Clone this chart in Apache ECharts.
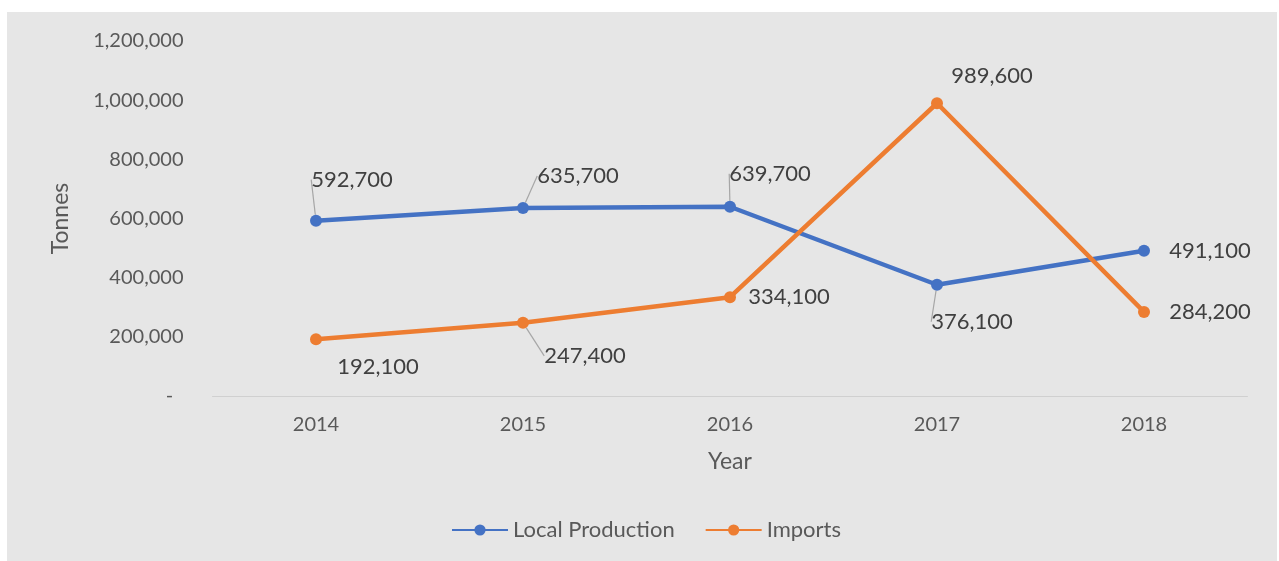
<!DOCTYPE html>
<html>
<head>
<meta charset="utf-8">
<script src="https://cdn.jsdelivr.net/npm/echarts@6/dist/echarts.min.js"></script>
<style>
html,body{margin:0;padding:0;background:#fff;width:1279px;height:561px;overflow:hidden;}
#panel{position:absolute;left:7px;top:12px;width:1270px;height:549px;background:#e6e6e6;}
#chart{position:absolute;left:0;top:0;width:1279px;height:561px;}
</style>
</head>
<body>
<div id="panel"></div>
<div id="chart"></div>
<script>
const years = ['2014', '2015', '2016', '2017', '2018'];
const localProduction = [592700, 635700, 639700, 376100, 491100];
const imports = [192100, 247400, 334100, 989600, 284200];
const yTicks = [0, 200000, 400000, 600000, 800000, 1000000, 1200000];

// label offsets (style) per point
const lpOffsets = [[36, -41], [55, -32], [40, -33], [35, 37], [66, 0]];
const imOffsets = [[62, 28], [62, 33], [59, 0], [55, -27], [66, 0]];
const lpLines = [true, true, true, true, false];
const imLines = [false, true, false, false, false];

const fontFam = 'Lato, "Open Sans", sans-serif';
const fmt = v => v.toLocaleString('en-US');

function mkData(vals, lines) {
  return vals.map((v, i) => ({ value: v, labelLine: { show: lines[i] } }));
}

const chart = echarts.init(document.getElementById('chart'), null, { renderer: 'canvas' });
chart.setOption({
  backgroundColor: 'transparent',
  animation: false,
  grid: { left: 212.5, right: 31.5, top: 41, bottom: 165 },
  legend: {
    top: 514,
    left: 446,
    itemWidth: 56,
    itemHeight: 14,
    itemGap: 30,
    textStyle: { color: '#595959', fontSize: 22, fontFamily: fontFam },
    data: ['Local Production', 'Imports']
  },
  xAxis: {
    type: 'category',
    data: years,
    boundaryGap: true,
    name: 'Year',
    nameLocation: 'middle',
    nameGap: 54,
    nameTextStyle: { color: '#595959', fontSize: 23, fontFamily: fontFam },
    axisLine: { lineStyle: { color: '#d0d0d0', width: 1 } },
    axisTick: { show: false },
    axisLabel: { color: '#595959', fontSize: 20, fontFamily: fontFam, margin: 19 }
  },
  yAxis: {
    type: 'value',
    min: 0,
    max: 1200000,
    interval: 200000,
    name: 'Tonnes',
    nameLocation: 'middle',
    nameGap: 140,
    nameTextStyle: { color: '#595959', fontSize: 23, fontFamily: fontFam },
    axisLine: { show: false },
    axisTick: { show: false },
    splitLine: { show: false },
    axisLabel: {
      color: '#595959', fontSize: 20, fontFamily: fontFam, margin: 29,
      formatter: v => v === 0 ? '-  ' : fmt(v)
    }
  },
  series: [
    {
      name: 'Local Production',
      type: 'line',
      data: mkData(localProduction, lpLines),
      color: '#4472C4',
      lineStyle: { width: 4.5, color: '#4472C4' },
      symbol: 'circle',
      symbolSize: 12,
      itemStyle: { color: '#4472C4' },
      label: {
        show: true, position: 'inside', color: '#404040', fontSize: 22, fontFamily: fontFam,
        formatter: p => fmt(p.value)
      },
      labelLine: { show: true, lineStyle: { color: '#a6a6a6', width: 1.2 } },
      labelLayout: p => ({ dx: lpOffsets[p.dataIndex][0], dy: lpOffsets[p.dataIndex][1] })
    },
    {
      name: 'Imports',
      type: 'line',
      data: mkData(imports, imLines),
      color: '#ED7D31',
      lineStyle: { width: 4.5, color: '#ED7D31' },
      symbol: 'circle',
      symbolSize: 12,
      itemStyle: { color: '#ED7D31' },
      label: {
        show: true, position: 'inside', color: '#404040', fontSize: 22, fontFamily: fontFam,
        formatter: p => fmt(p.value)
      },
      labelLine: { show: true, lineStyle: { color: '#a6a6a6', width: 1.2 } },
      labelLayout: p => ({ dx: imOffsets[p.dataIndex][0], dy: imOffsets[p.dataIndex][1] })
    }
  ]
});
</script>
</body>
</html>
